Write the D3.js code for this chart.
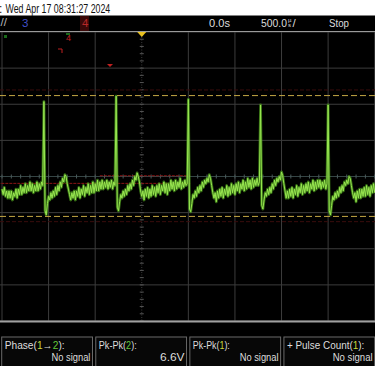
<!DOCTYPE html>
<html>
<head>
<meta charset="utf-8">
<script src="https://cdn.jsdelivr.net/npm/d3@7"></script>
<style>
  body { margin: 0; background: #000; }
  svg { display: block; }
</style>
</head>
<body>
<div class="scope_chart"></div>
<script>
// Channel 2 trace in volts, one sample every 12.5us starting at -1500us
var sampleStart = -1500;
var sampleStep = 12.5;
var trace = [
  // before first beat
  -0.7, -1.0, -0.6, -1.1, -0.8, -1.2, -0.8, -1.2, -0.8, -1.3,
  -0.9, -1.1, -0.7, -1.2, -0.7, -1.0, -0.5, -1.0, -0.6, -0.9,
  -0.4, -0.9, -0.5, -0.8, -0.3, -0.8, -0.4, -0.9, -0.5, -0.8,
  -0.3, -0.8, -0.4, -0.7, -0.3, -0.5,
  // beat 1
  4.15, -1.9, -2.13, -1.5, -1.1, -1.3, -0.9, -1.2, -0.8, -1.1,
  -0.6, -1.0, -0.5, -0.8, -0.3, -0.6, -0.1, -0.3, 0.1, 0.0,
  -0.4, -0.7, -1.0, -1.3, -0.9, -1.2, -0.8, -1.3, -0.8, -1.1,
  -0.6, -1.2, -0.7, -1.0, -0.5, -1.1, -0.6, -0.9, -0.4, -1.0,
  -0.5, -0.9, -0.3, -0.9, -0.4, -0.8, -0.2, -0.8, -0.3, -0.7,
  -0.2, -0.7, -0.3, -0.6, -0.2, -0.7, -0.3, -0.6, -0.2, -0.7,
  -0.3, -0.5,
  // beat 2
  4.45, -1.7, -1.9, -1.4, -1.0, -1.2, -0.8, -1.1, -0.7, -1.0,
  -0.5, -0.8, -0.4, -0.7, -0.2, -0.5, 0.0, -0.2, 0.2, 0.0,
  -0.3, -0.8, -1.1, -0.8, -1.3, -0.7, -1.1, -0.6, -1.2, -0.7,
  -1.1, -0.5, -1.0, -0.6, -1.1, -0.5, -0.9, -0.4, -1.0, -0.5,
  -0.8, -0.3, -0.9, -0.4, -1.0, -0.4, -0.8, -0.2, -0.7, -0.3,
  -0.8, -0.2, -0.7, -0.3, -0.6, -0.1, -0.7, -0.3, -0.6, -0.2,
  -0.5, -0.4,
  // beat 3
  4.27, -1.8, -1.95, -1.5, -1.0, -1.2, -0.8, -1.1, -0.6, -0.9,
  -0.5, -0.8, -0.3, -0.6, -0.2, -0.4, -0.1, -0.3, 0.1, -0.1,
  -0.5, -0.9, -1.2, -0.9, -1.4, -0.8, -1.2, -0.7, -1.1, -0.6,
  -1.2, -0.7, -1.0, -0.5, -1.1, -0.6, -1.0, -0.4, -0.9, -0.5,
  -1.0, -0.4, -0.8, -0.3, -0.9, -0.4, -0.7, -0.2, -0.8, -0.3,
  -0.7, -0.1, -0.6, -0.2, -0.7, -0.1, -0.6, -0.2, -0.5, -0.1,
  -0.5, -0.3,
  // beat 4
  3.96, -1.6, -1.8, -1.3, -0.9, -1.1, -0.7, -1.0, -0.6, -0.9,
  -0.4, -0.7, -0.2, -0.5, -0.1, -0.3, 0.0, -0.2, 0.25, 0.05,
  -0.4, -0.8, -1.2, -0.8, -1.2, -0.7, -1.1, -0.6, -1.2, -0.7,
  -1.0, -0.5, -1.1, -0.6, -0.9, -0.4, -1.0, -0.5, -0.9, -0.4,
  -0.8, -0.3, -0.9, -0.4, -0.7, -0.2, -0.8, -0.3, -0.7, -0.2,
  -0.6, -0.2, -0.7, -0.3, -0.6, -0.2, -0.7, -0.4,
  // beat 5
  3.96, -1.9, -2.13, -1.6, -1.1, -1.3, -0.9, -1.2, -0.8, -1.1,
  -0.6, -0.9, -0.5, -0.8, -0.3, -0.5, -0.2, -0.4, 0.0, -0.1,
  -0.5, -0.9, -1.2, -0.9, -1.4, -0.8, -1.2, -0.7, -1.2, -0.7,
  -1.1, -0.6, -1.1, -0.5, -1.0, -0.6, -1.1, -0.5, -0.9, -0.4,
  -0.9
];

// Screen shows -3 .. +5 divisions at 500us/div, 8 divisions at 2V/div
var timeDomain = [-1500, 2500];
var timePerDiv = 500;
var voltDomain = [-8, 8];
var voltPerDiv = 2;

// Cursors and level markers (volts)
var cursorLevels = [4.48, -2.21];
var cursorShadows = [4.79, -2.5];
var levelMarkers = [{v: -0.38, t0: -1550, t1: 520}, {v: 0.04, t0: -450, t1: 520}];

// Header texts
var dateText = "Wed Apr 17 08:31:27 2024";
var delayText = "0.0s";
var scaleText = "500.0";
var runText = "Stop";

// Measurements
var measureNames = ["Phase", "Pk-Pk", "Pk-Pk", "+ Pulse Count"];
var measureSources = [["1", "2"], ["2"], ["1"], ["1"]];
var measureValues = ["No signal", "6.6V", "No signal", "No signal"];

var chColor = {"1": "#c9d83c", "2": "#62c93a"};
var font = "'Liberation Sans', Arial, sans-serif";

var W = 375, H = 366;

var svg = d3.select(".scope_chart")
  .append("svg")
  .attr("width", W)
  .attr("height", H)
  .style("background", "#000");

var x = d3.scaleLinear().domain(timeDomain).range([2, 374.7]);
var y = d3.scaleLinear().domain(voltDomain).range([321, 32]);

// squeeze a text horizontally to the narrow scope font width
function squeeze(sel, x0, y0, w, alignEnd) {
  sel.each(function() {
    var n = this.getComputedTextLength();
    var s = w / n;
    var tx = alignEnd ? x0 - w : x0;
    d3.select(this)
      .attr("x", 0).attr("y", 0)
      .attr("transform", "translate(" + tx + "," + y0 + ") scale(" + s + ",1)");
  });
}

// Date band
svg.append("rect")
  .attr("width", W).attr("height", 15.5)
  .attr("fill", "#fff");
svg.append("text")
  .attr("x", -1).attr("y", 12.5)
  .style("font", "12px " + font)
  .attr("fill", "#111")
  .text(":");
squeeze(svg.append("text")
  .style("font", "12px " + font)
  .attr("fill", "#111")
  .text(dateText), 5.5, 12.5, 105);

// Status bar
var statusBar = svg.append("g").style("font", "11.5px " + font);
statusBar.append("text").attr("x", 0.5).attr("y", 26).attr("fill", "#bbb").text("//");
statusBar.append("text").attr("x", 22).attr("y", 27).attr("fill", "#4050c8").text("3");
statusBar.append("rect").attr("x", 80).attr("y", 16).attr("width", 9).attr("height", 15).attr("fill", "#3a0808");
statusBar.append("text").attr("x", 82).attr("y", 27).attr("fill", "#b82828").text("4");
squeeze(statusBar.append("text").attr("fill", "#ddd").text(delayText), 209, 27, 21);
squeeze(statusBar.append("text").attr("fill", "#ddd").text(scaleText), 261, 27, 26);
statusBar.append("text").attr("x", 288).attr("y", 21.5).attr("fill", "#ddd").style("font-size", "6px").text("µ");
statusBar.append("text").attr("x", 288).attr("y", 27).attr("fill", "#ddd").style("font-size", "6px").text("s");
statusBar.append("text").attr("x", 292.5).attr("y", 27).attr("fill", "#ddd").text("/");
squeeze(statusBar.append("text").attr("fill", "#ddd").text(runText), 329, 27, 20);

// Grid
var grid = svg.append("g");
var vLines = d3.range(timeDomain[0], timeDomain[1] + 1, timePerDiv).filter(d => d !== 0);
var hLines = d3.range(voltDomain[0], voltDomain[1] + 1, voltPerDiv).filter(d => d !== 0);

grid.selectAll(".vline")
  .data(vLines)
  .enter().append("line")
    .attr("x1", d => x(d)).attr("x2", d => x(d))
    .attr("y1", y(voltDomain[1])).attr("y2", y(voltDomain[0]))
    .attr("stroke", "#3c3c3c");

grid.selectAll(".hline")
  .data(hLines)
  .enter().append("line")
    .attr("x1", 0).attr("x2", W)
    .attr("y1", d => y(d)).attr("y2", d => y(d))
    .attr("stroke", "#3c3c3c");

// Center axes with minor ticks
grid.append("line")
  .attr("x1", x(0)).attr("x2", x(0))
  .attr("y1", y(voltDomain[1])).attr("y2", y(voltDomain[0]))
  .attr("stroke", "#3a3a3a")
  .attr("stroke-dasharray", "1,1.5");
grid.append("line")
  .attr("x1", 0).attr("x2", W)
  .attr("y1", y(0)).attr("y2", y(0))
  .attr("stroke", "#354545");

grid.selectAll(".vtick")
  .data(d3.range(voltDomain[0], voltDomain[1] + 0.01, voltPerDiv / 5))
  .enter().append("line")
    .attr("x1", x(0) - 2).attr("x2", x(0) + 2)
    .attr("y1", d => y(d)).attr("y2", d => y(d))
    .attr("stroke", "#555");
grid.selectAll(".htick")
  .data(d3.range(timeDomain[0], timeDomain[1] + 0.01, timePerDiv / 5))
  .enter().append("line")
    .attr("x1", d => x(d)).attr("x2", d => x(d))
    .attr("y1", y(0) - 2).attr("y2", y(0) + 2)
    .attr("stroke", "#4a5a5a");

// Top and bottom frame lines
svg.append("line").attr("x1", 0).attr("x2", W).attr("y1", 31.5).attr("y2", 31.5)
  .attr("stroke", "#9a9a9a");
svg.append("line").attr("x1", 0).attr("x2", W).attr("y1", 321.5).attr("y2", 321.5)
  .attr("stroke", "#a0a0a0").attr("stroke-width", 2);

// Cursor shadows and level markers
svg.selectAll(".shadow")
  .data(cursorShadows)
  .enter().append("line")
    .attr("x1", 0).attr("x2", W)
    .attr("y1", d => y(d)).attr("y2", d => y(d))
    .attr("stroke", "#3a0c0c")
    .attr("stroke-dasharray", "4,2");

svg.selectAll(".level")
  .data(levelMarkers)
  .enter().append("line")
    .attr("x1", d => x(d.t0)).attr("x2", d => x(d.t1))
    .attr("y1", d => y(d.v)).attr("y2", d => y(d.v))
    .attr("stroke", "#8a1414")
    .attr("stroke-dasharray", "3,1");

// Trace: wide dim glow then bright core
var line = d3.line()
  .x((d, i) => x(sampleStart + i * sampleStep))
  .y(d => y(d));

svg.append("path")
  .datum(trace)
  .attr("d", line)
  .attr("fill", "none")
  .attr("stroke", "#4a961c")
  .attr("stroke-width", 2.8)
  .attr("stroke-opacity", 0.75)
  .attr("stroke-linejoin", "round");

svg.append("path")
  .datum(trace)
  .attr("d", line)
  .attr("fill", "none")
  .attr("stroke", "#98e650")
  .attr("stroke-width", 1)
  .attr("stroke-linejoin", "round");

svg.selectAll(".cursor")
  .data(cursorLevels)
  .enter().append("line")
    .attr("x1", 0).attr("x2", W)
    .attr("y1", d => y(d)).attr("y2", d => y(d))
    .attr("stroke", "#c4a845")
    .attr("stroke-dasharray", "6,3");

// Trigger position marker
svg.append("path")
  .attr("d", "M" + (x(0) - 4.5) + ",32 L" + (x(0) + 4.5) + ",32 L" + x(0) + ",37 Z")
  .attr("fill", "#e8c020");

// Small channel reference markers near the top
svg.append("path")
  .attr("d", "M107,64 L113,64 L110,67 Z")
  .attr("fill", "#c02020");
svg.append("text")
  .attr("x", 66).attr("y", 41)
  .style("font", "9px " + font)
  .attr("fill", "#c02020")
  .text("4");
svg.append("path")
  .attr("d", "M58,49 L62,49 L62,53")
  .attr("fill", "none")
  .attr("stroke", "#c02020");
svg.append("rect").attr("x", 66).attr("y", 33).attr("width", 4).attr("height", 2).attr("fill", "#1a6a1a");
svg.append("rect").attr("x", 4).attr("y", 35).attr("width", 3).attr("height", 3).attr("fill", "#1a6a1a");

// Measurement boxes
var boxes = d3.scaleBand()
  .domain(d3.range(measureNames.length))
  .range([1.7, 374.7])
  .paddingInner(0.035);

var labelWidths = [60, 38, 37, 77.5];
var valueWidths = [39, 24.5, 39, 40];

var meas = svg.selectAll(".meas")
  .data(measureNames)
  .enter().append("g")
    .attr("class", "meas")
    .attr("transform", (d, i) => "translate(" + boxes(i) + ",337)");

meas.append("rect")
  .attr("width", boxes.bandwidth())
  .attr("height", 40)
  .attr("fill", "#070707")
  .attr("stroke", "#6a6a6a");

meas.each(function(d, i) {
  var g = d3.select(this);
  var t = g.append("text")
    .style("font", "11px " + font)
    .attr("fill", "#ddd");
  t.append("tspan").text(d + "(");
  measureSources[i].forEach(function(s, j) {
    if (j > 0) t.append("tspan").attr("fill", "#ddd").text("→");
    t.append("tspan").attr("fill", chColor[s]).text(s);
  });
  t.append("tspan").text("):");
  squeeze(t, 3, 11.5, labelWidths[i]);

  var v = g.append("text")
    .style("font", "11px " + font)
    .attr("fill", "#ddd")
    .text(measureValues[i]);
  squeeze(v, boxes.bandwidth() - 2, 24, valueWidths[i], true);
});
</script>
</body>
</html>
